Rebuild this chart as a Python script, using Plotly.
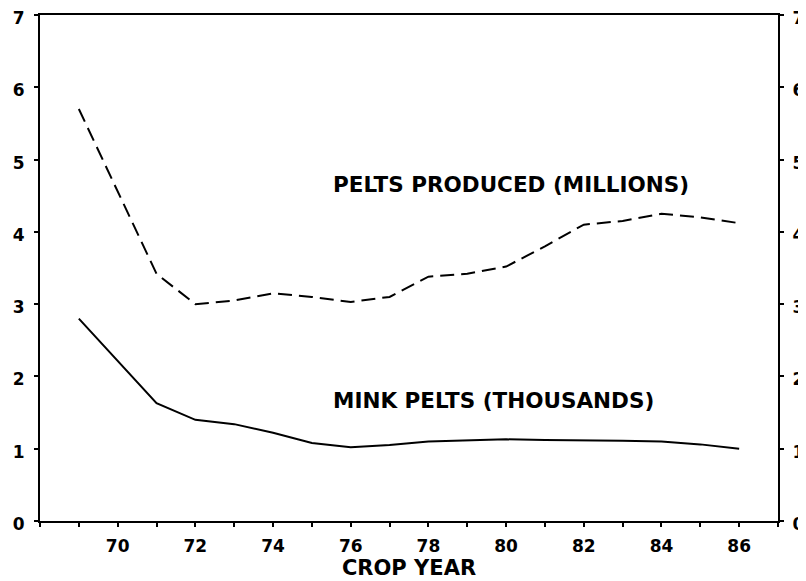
import plotly.graph_objects as go

years = [69, 71, 72, 73, 74, 75, 76, 77, 78, 79, 80, 81, 82, 83, 84, 85, 86]
pelts_produced_millions = [5.7, 3.42, 3.0, 3.05, 3.15, 3.1, 3.03, 3.1, 3.38, 3.42, 3.52, 3.8, 4.1, 4.15, 4.25, 4.2, 4.12]
mink_pelts_thousands = [2.8, 1.63, 1.4, 1.34, 1.22, 1.08, 1.02, 1.05, 1.1, 1.11, 1.13, 1.12, 1.12, 1.11, 1.1, 1.06, 1.0]
x_tick_labels = ["70", "72", "74", "76", "78", "80", "82", "84", "86"]
x_tick_vals = [70, 72, 74, 76, 78, 80, 82, 84, 86]
y_ticks = [0, 1, 2, 3, 4, 5, 6, 7]

FONT = "DejaVu Sans"

def f(size):
    return dict(family=FONT, size=size, color="black", weight="bold")

fig = go.Figure()
fig.add_trace(go.Scatter(x=years, y=pelts_produced_millions, mode="lines",
                         line=dict(color="black", width=2, dash="14px,7px"),
                         showlegend=False, yaxis="y2"))
fig.add_trace(go.Scatter(x=years, y=mink_pelts_thousands, mode="lines",
                         line=dict(color="black", width=2),
                         showlegend=False))

fig.add_annotation(x=75.5, y=4.65, text="PELTS PRODUCED (MILLIONS)", showarrow=False,
                   xanchor="left", yanchor="middle", font=f(21.5))
fig.add_annotation(x=75.5, y=1.67, text="MINK PELTS (THOUSANDS)", showarrow=False,
                   xanchor="left", yanchor="middle", font=f(21.5))

# the page body adds an 8px offset, so the figure is sized/margined to compensate
fig.update_layout(
    width=798, height=573,
    margin=dict(l=32, r=28, t=7, b=60),
    paper_bgcolor="white", plot_bgcolor="white",
    font=dict(family=FONT, color="black"),
    xaxis=dict(range=[68, 87], tickvals=x_tick_vals, ticktext=x_tick_labels,
               ticks="outside", ticklen=4, tickwidth=2, tickcolor="black",
               minor=dict(dtick=1, tick0=68, ticks="outside", ticklen=4, tickwidth=2, tickcolor="black"),
               showline=True, linecolor="black", linewidth=2, mirror=True,
               showgrid=False, zeroline=False, automargin=False, ticklabelstandoff=5,
               tickfont=f(17),
               title=dict(text="CROP YEAR", font=f(21), standoff=2)),
    yaxis=dict(range=[0, 7], tickvals=y_ticks, ticks="outside", ticklen=4, tickwidth=2,
               tickcolor="black", showline=True, linecolor="black", linewidth=2,
               showgrid=False, zeroline=False, ticklabelstandoff=6, ticklabelshift=3,
               automargin=False, ticklabeloverflow="allow", tickfont=f(17)),
    yaxis2=dict(range=[0, 7], tickvals=y_ticks, overlaying="y", side="right",
                ticks="outside", ticklen=4, tickwidth=2, tickcolor="black",
                showline=True, linecolor="black", linewidth=2,
                showgrid=False, zeroline=False, ticklabelstandoff=5, ticklabelshift=3,
                automargin=False, ticklabeloverflow="allow", tickfont=f(17)),
)

fig.write_html("out.html")
